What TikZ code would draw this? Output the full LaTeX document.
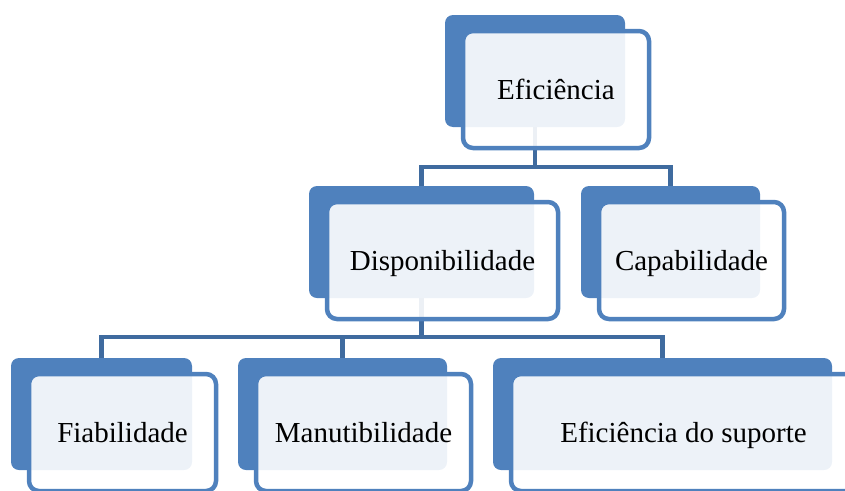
\documentclass[tikz,border=0pt]{standalone}
\usepackage{fontspec}
\setmainfont{Liberation Serif}
\definecolor{boxblue}{HTML}{4F81BD}
\definecolor{linkblue}{HTML}{3F6B9F}
\tikzset{
	backbox/.style={fill=boxblue, rounded corners=8pt, inner sep=0pt, minimum height=112pt},
	frontbox/.style={draw=boxblue, line width=4.5pt, fill=white, fill opacity=0.9, text opacity=1,
		rounded corners=10pt, inner sep=0pt, minimum height=117pt, text height=24pt, text depth=4pt,
		font=\fontsize{29}{34}\selectfont},
	link/.style={draw=linkblue, line width=4.5pt}
}
\begin{document}
\begin{tikzpicture}[x=1pt,y=-1pt]
		\useasboundingbox (0,0) rectangle (845,490);
		\clip (0,0) rectangle (845,490);
		\def\items{efi/535/71/180/Eficiência, disp/421.5/242/225/Disponibilidade, capa/670.5/242/179/Capabilidade,
			fiab/101.5/414/181/Fiabilidade, manu/342.5/414/209/Manutibilidade, sup/662.5/414/339/Eficiência do suporte}
		\foreach \n/\x/\y/\w/\t in \items
			{
				\node[backbox, minimum width=\w] (\n-b) at (\x,\y) {};
			}
		\draw[link] (efi-b.south) -- (efi-b.south |- 0,167) -| (disp-b.north);
		\draw[link] (efi-b.south |- 0,167) -| (capa-b.north);
		\foreach \c in {fiab,manu,sup}
			\draw[link] (disp-b.south) -- (disp-b.south |- 0,337) -| (\c-b.north);
		\foreach \n/\x/\y/\w/\t in \items
			{
				\node[frontbox, minimum width=\w+6] (\n) at ([shift={(21,18.5)}]\n-b) {\t};
			}
	\end{tikzpicture}
\end{document}
